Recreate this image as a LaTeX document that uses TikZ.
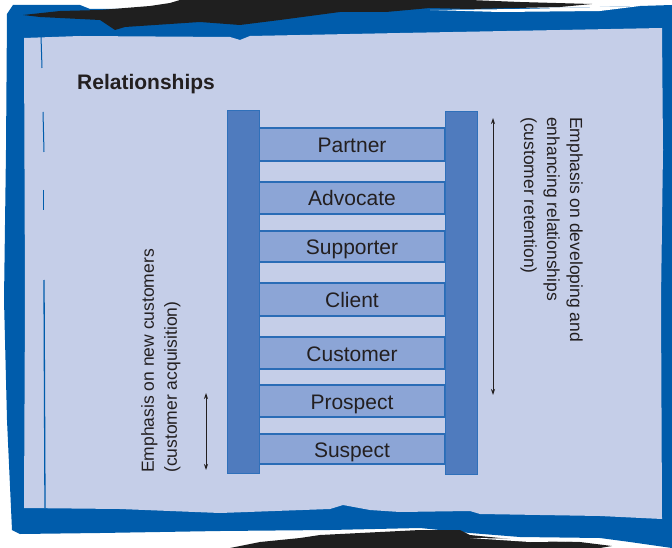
\documentclass[tikz,border=0pt]{standalone}
\usepackage{fontspec}
\setmainfont{Liberation Sans}
\usetikzlibrary{arrows.meta,positioning}
\definecolor{fblue}{HTML}{005CAB}
\definecolor{panel}{HTML}{C5CEE8}
\definecolor{railc}{HTML}{4F7BBE}
\definecolor{railb}{HTML}{2F70BA}
\definecolor{rungc}{HTML}{8CA5D6}
\definecolor{rungb}{HTML}{2A6CB6}
\definecolor{ink}{HTML}{231F20}
\tikzset{
  % ladder parts
  rail/.style  = {rectangle, draw=railb, fill=railc, line width=1pt,
                  minimum width=32pt, inner sep=0pt},
  rung/.style  = {rectangle, draw=rungb, fill=rungc, line width=1.2pt,
                  minimum width=186pt, inner sep=0pt, text=ink,
                  text height=16pt, text depth=0pt,
                  font=\fontsize{21}{25}\selectfont},
  span/.style  = {{Stealth[length=6pt,width=4pt]}-{Stealth[length=6pt,width=4pt]},
                  ink, line width=0.8pt},
  side/.style  = {text=ink, align=left, inner sep=0pt,
                  font=\fontsize{17.5}{23}\selectfont},
  title/.style = {text=ink, inner sep=0pt, font=\fontsize{21}{25}\selectfont\bfseries},
}

\begin{document}
\begin{tikzpicture}[x=1pt,y=-1pt]
\useasboundingbox (0,0) rectangle (672,548);
% --- rough frame -------------------------------------------------------
\fill[fblue] (7,14) -- (13,5) -- (80,5) -- (90,9) -- (300,8) -- (430,8)
      -- (560,8) -- (640,6) -- (672,5) -- (672,548) -- (630,542) -- (600,538)
      -- (520,537) -- (470,533) -- (420,528) -- (330,530) -- (220,531)
      -- (100,533) -- (20,534) -- (12,530) -- (7,420) -- (4,300)
      -- (6,150) -- cycle;
\fill[panel] (24,38) -- (80,36) -- (230,37) -- (240,40) -- (250,36) -- (400,33)
      -- (560,30) -- (662,28) -- (663,150) -- (661,300) -- (662,519)
      -- (600,516) -- (480,514) -- (470,511) -- (400,512) -- (370,510)
      -- (343,505) -- (330,509) -- (220,513) -- (120,509) -- (24,508)
      -- (25,300) -- cycle;
\draw[fblue, line width=1.3pt] (44,280) -- (45,508);
\draw[fblue, line width=1pt] (43,112) -- (44,152);
\draw[fblue, line width=1pt] (43,190) -- (43,210);
\draw[fblue, line width=1pt] (41,36) -- (42,68);
% --- brush strokes -----------------------------------------------------
\fill[black!88] (23,15) -- (60,11) -- (100,10) -- (150,6) -- (170,3) -- (180,0)
      -- (470,0) -- (520,2) -- (592,4) -- (560,7) -- (470,9) -- (430,8)
      -- (386,12) -- (340,12) -- (280,20) -- (240,25) -- (200,22) -- (125,27)
      -- (115,30) -- (100,20) -- (40,17) -- cycle;
\fill[white] (430,10) -- (520,9) -- (640,6) -- (600,11) -- (500,12) -- cycle;
\fill[black!88] (230,548) -- (260,542) -- (300,538) -- (320,535) -- (380,532)
      -- (420,530) -- (460,530) -- (470,535) -- (520,540) -- (580,542)
      -- (612,546) -- (600,548) -- cycle;
\fill[white] (470,538) -- (540,539) -- (600,541) -- (530,542) -- cycle;
% --- ladder ------------------------------------------------------------
\foreach \nm/\lbl/\yc/\hh in {partner/Partner/144.5/33, advocate/Advocate/198/32,
                              supporter/Supporter/246.5/31, client/Client/299.5/33,
                              customer/Customer/353/32, prospect/Prospect/401/32,
                              suspect/Suspect/449/30}
  {\node[rung, minimum height=\hh pt] (\nm) at (352,\yc) {\lbl};}
\node[rail, minimum height=362pt] (lrail) at (243,292) {};
\node[rail, minimum height=362pt] (rrail) at (461.5,293) {};
% --- emphasis arrows and notes -----------------------------------------
\coordinate (rtop) at (493,118);
\coordinate (rbot) at (493,395);
\draw[span] (rtop) -- (rbot);
\coordinate (ltop) at (206,393);
\coordinate (lbot) at (206,470);
\draw[span] (ltop) -- (lbot);
\node[side, rotate=-90, anchor=north west] (keep) at (583,117)
      {Emphasis on developing and\\enhancing relationships\\(customer retention)};
\node[side, rotate=90, anchor=north west] (win) at (141,473)
      {Emphasis on new customers\\(customer acquisition)};
\node[title, anchor=base west] (head) at (77,90) {Relationships};
\end{tikzpicture}
\end{document}
